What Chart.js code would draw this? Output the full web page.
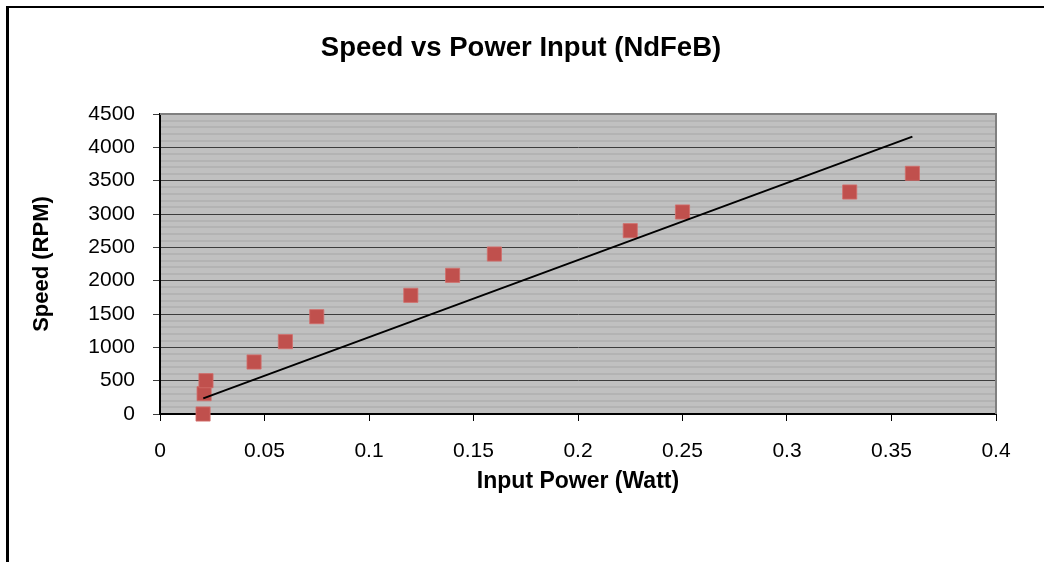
<!DOCTYPE html>
<html>
<head>
<meta charset="utf-8">
<script src="https://cdn.jsdelivr.net/npm/chart.js@4.4.1/dist/chart.umd.min.js"></script>
<style>
  body { margin: 0; background: #fff; }
  #wrap { position: relative; width: 1044px; height: 562px; overflow: hidden; }
  #frame { position: absolute; left: 6px; top: 6px; width: 1100px; height: 600px;
           border-left: 3px solid #000; border-top: 2px solid #000; }
  #chart { position: absolute; left: 0; top: 0; }
</style>
</head>
<body>
<div id="wrap">
  <div id="frame"></div>
  <canvas id="chart" width="1044" height="562"></canvas>
</div>
<script>
// measured power input (W) and rotor speed (RPM)
let power=[0.0206,0.0211,0.022,0.045,0.060,0.075,0.120,0.140,0.160,0.225,0.250,0.330,0.360];
let speed=[0,305,500,780,1085,1460,1780,2080,2400,2750,3030,3330,3610];
// linear trend line end points
let trendX=[0.0207,0.360];
let trendY=[235,4160];

let pts=[];
for(let i=0;i<power.length;i++){
    pts.push({x:power[i],y:speed[i]});
}
let trend=[];
for(let i=0;i<trendX.length;i++){
    trend.push({x:trendX[i],y:trendY[i]});
}

const FONT="'Liberation Sans', Arial, sans-serif";

// grey plot area with thin horizontal stripes every 100 RPM
const plotBack={
    id:'plotBack',
    afterLayout(chart){
        // centre the title over the framed box rather than the padded area
        if(chart.titleBlock) chart.titleBlock.left=46;
    },
    beforeDraw(chart){
        const a=chart.chartArea, ctx=chart.ctx, y=chart.scales.y;
        ctx.save();
        ctx.fillStyle='#c0c0c0';
        ctx.fillRect(a.left,a.top,a.right-a.left,a.bottom-a.top);
        ctx.fillStyle='#b3b3b3';
        for(let v=100;v<4500;v+=100){
            if(v%500===0) continue;
            const py=y.getPixelForValue(v);
            ctx.fillRect(a.left,Math.round(py)-1,a.right-a.left,2);
        }
        ctx.restore();
    },
    beforeDatasetsDraw(chart){
        const a=chart.chartArea, ctx=chart.ctx;
        ctx.save();
        ctx.strokeStyle='#808080';
        ctx.lineWidth=2;
        ctx.beginPath();
        ctx.moveTo(a.left,a.top);
        ctx.lineTo(a.right,a.top);
        ctx.lineTo(a.right,a.bottom);
        ctx.stroke();
        ctx.restore();
    }
};

new Chart("chart",{
    type:"scatter",
    data:{
        // trend line first so it sits on top of the markers
        datasets:[{
            label:'Linear (Speed)',
            data:trend,
            showLine:true,
            pointRadius:0,
            borderColor:'#000',
            borderWidth:2,
            fill:false
        },{
            label:'Speed',
            data:pts,
            clip:false,
            pointStyle:'rect',
            pointRadius:10,
            pointHoverRadius:10,
            backgroundColor:'#c0504d',
            borderColor:'rgba(210,110,107,0.8)',
            borderWidth:1
        }]
    },
    options:{
        responsive:false,
        animation:false,
        layout:{padding:{left:25,right:48,top:0,bottom:63}},
        plugins:{
            legend:{display:false},
            tooltip:{enabled:false},
            title:{
                display:true,
                text:'Speed vs Power Input (NdFeB)',
                color:'#000',
                font:{family:FONT,size:27.5,weight:'bold'},
                padding:{top:32,bottom:49}
            }
        },
        scales:{
            x:{
                type:'linear',
                min:0,max:0.4,
                afterFit(s){ s.height=85; },
                ticks:{
                    stepSize:0.05,
                    color:'#000',
                    padding:18,
                    font:{family:FONT,size:21},
                    maxRotation:0,
                    callback:v=>String(Math.round(v*100)/100)
                },
                grid:{drawOnChartArea:false,drawTicks:true,tickLength:7,color:'#000'},
                border:{color:'#000',width:2},
                title:{
                    display:true,
                    text:'Input Power (Watt)',
                    color:'#000',
                    font:{family:FONT,size:23,weight:'bold'},
                    padding:{top:0,bottom:4}
                }
            },
            y:{
                min:0,max:4500,
                afterFit(s){ s.width=135; },
                ticks:{
                    stepSize:500,
                    color:'#000',
                    padding:18,
                    font:{family:FONT,size:21},
                    callback:v=>String(v)
                },
                grid:{color:'#3c3c3c',lineWidth:1,tickLength:7,drawTicks:true},
                border:{color:'#000',width:2},
                title:{
                    display:true,
                    text:'Speed (RPM)',
                    color:'#000',
                    font:{family:FONT,size:22,weight:'bold'},
                    padding:{top:4,bottom:0}
                }
            }
        }
    },
    plugins:[plotBack]
});
</script>
</body>
</html>
